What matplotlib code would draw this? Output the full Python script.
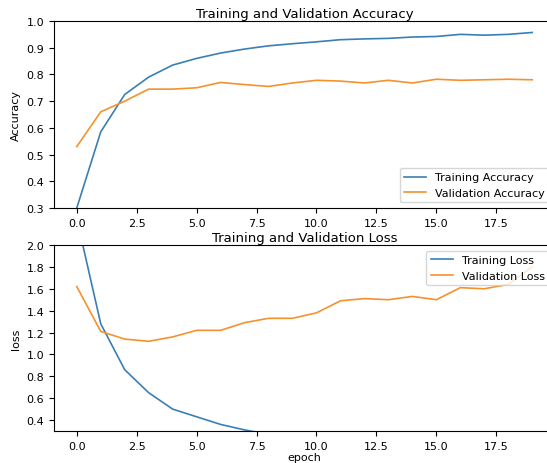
import matplotlib
matplotlib.use("Agg")
import matplotlib.pyplot as plt
import numpy as np

epochs = list(range(20))
train_acc = [0.30, 0.585, 0.725, 0.79, 0.835, 0.86, 0.88, 0.895, 0.907, 0.915,
             0.922, 0.93, 0.933, 0.935, 0.94, 0.942, 0.95, 0.947, 0.95, 0.957]
val_acc = [0.53, 0.66, 0.70, 0.745, 0.745, 0.75, 0.77, 0.762, 0.755, 0.768,
           0.778, 0.775, 0.768, 0.778, 0.768, 0.782, 0.778, 0.78, 0.782, 0.78]
train_loss = [2.24, 1.28, 0.86, 0.65, 0.50, 0.43, 0.36, 0.31, 0.27, 0.24,
              0.22, 0.20, 0.18, 0.17, 0.16, 0.15, 0.14, 0.13, 0.12, 0.11]
val_loss = [1.62, 1.21, 1.14, 1.12, 1.16, 1.22, 1.22, 1.29, 1.33, 1.33,
            1.38, 1.49, 1.51, 1.50, 1.53, 1.50, 1.61, 1.60, 1.64, 1.80]

W, H = 547, 464
fig = plt.figure(figsize=(W / 100, H / 100), dpi=100)
plt.rcParams['font.size'] = 8

blue = '#3a7fb4'
orange = '#f5922e'

# top panel
ax1 = fig.add_axes([54 / W, 1 - 209 / H, (555 - 54) / W, (209 - 22) / H])
ax1.plot(epochs, train_acc, label='Training Accuracy', lw=1.2, color=blue)
ax1.plot(epochs, val_acc, label='Validation Accuracy', lw=1.2, color=orange)
ax1.set_ylim(0.3, 1.0)
ax1.set_ylabel('Accuracy', fontsize=8)
ax1.set_title('Training and Validation Accuracy', fontsize=9.5, pad=3)
ax1.legend(loc='lower right', fontsize=8)

# bottom panel
ax2 = fig.add_axes([54 / W, 1 - 432 / H, (555 - 54) / W, (432 - 246) / H])
ax2.plot(epochs, train_loss, label='Training Loss', lw=1.2, color=blue)
ax2.plot(epochs, val_loss, label='Validation Loss', lw=1.2, color=orange)
ax2.set_ylim(0.3, 2.0)
ax2.set_yticks(np.arange(0.4, 2.01, 0.2))
ax2.set_yticklabels([f'{v:.1f}' for v in np.arange(0.4, 2.01, 0.2)])
ax2.set_ylabel('loss', fontsize=8)
ax2.set_xlabel('epoch', fontsize=8, labelpad=1)
ax2.set_title('Training and Validation Loss', fontsize=9.5, pad=3)
ax2.legend(loc='upper right', fontsize=8)

for ax in (ax1, ax2):
    ax.set_xlim(-0.95, 19.95)
    ax.set_xticks([0, 2.5, 5, 7.5, 10, 12.5, 15, 17.5])
    ax.tick_params(labelsize=8)

fig.savefig('out.png', dpi=100)
